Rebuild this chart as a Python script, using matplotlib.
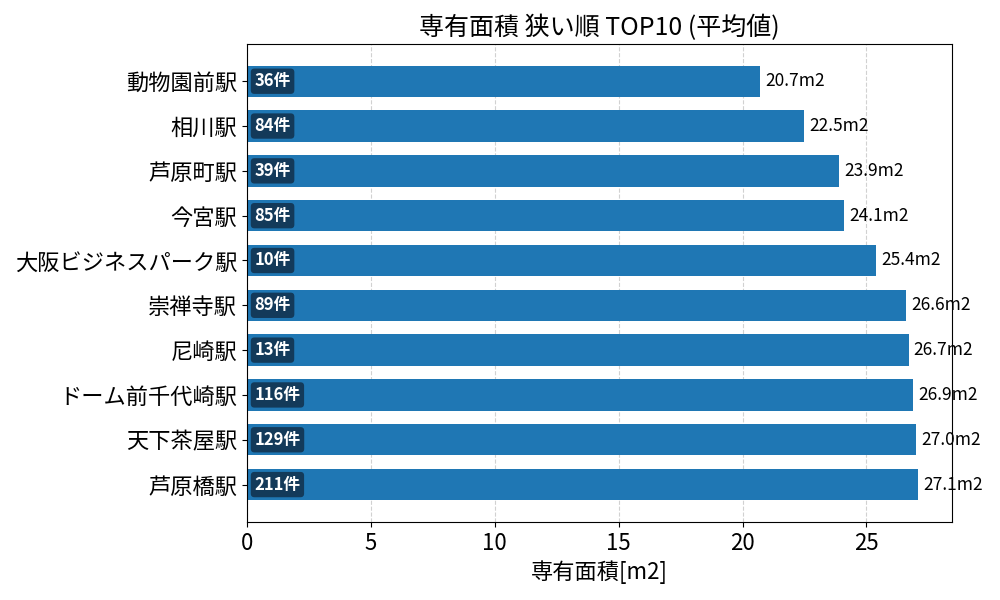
import matplotlib
matplotlib.use('Agg')
import matplotlib.pyplot as plt

plt.rcParams['font.family'] = ['Noto Sans CJK JP', 'DejaVu Sans']

stations = ['動物園前駅', '相川駅', '芦原町駅', '今宮駅', '大阪ビジネスパーク駅',
            '崇禅寺駅', '尼崎駅', 'ドーム前千代崎駅', '天下茶屋駅', '芦原橋駅']
areas = [20.7, 22.5, 23.9, 24.1, 25.4, 26.6, 26.7, 26.9, 27.0, 27.1]
counts = [36, 84, 39, 85, 10, 89, 13, 116, 129, 211]

fig, ax = plt.subplots(figsize=(10, 6), dpi=100)
ypos = list(range(len(stations)))
bars = ax.barh(ypos, areas, height=0.7, color='#1f77b4', zorder=2)
ax.set_yticks(ypos)
ax.set_yticklabels(stations, fontsize=16)
ax.invert_yaxis()

for y, v, c in zip(ypos, areas, counts):
    ax.text(v + 0.2, y, f'{v:.1f}m2', va='center', ha='left', fontsize=12.5, zorder=1)
    ax.text(0.3, y, f'{c}件', va='center', ha='left', fontsize=12, fontweight='bold',
            color='white', zorder=3,
            bbox=dict(boxstyle='round,pad=0.22', facecolor='#133a5a', edgecolor='none'))

ax.set_title('専有面積 狭い順 TOP10 (平均値)', fontsize=18)
ax.set_xlabel('専有面積[m2]', fontsize=16)
ax.tick_params(axis='x', labelsize=16)
ax.grid(axis='x', linestyle='--', color='#cccccc', alpha=0.9, zorder=0)
ax.set_axisbelow(True)

plt.subplots_adjust(left=0.247, right=0.952, top=0.927, bottom=0.13)
plt.savefig('out.png')
